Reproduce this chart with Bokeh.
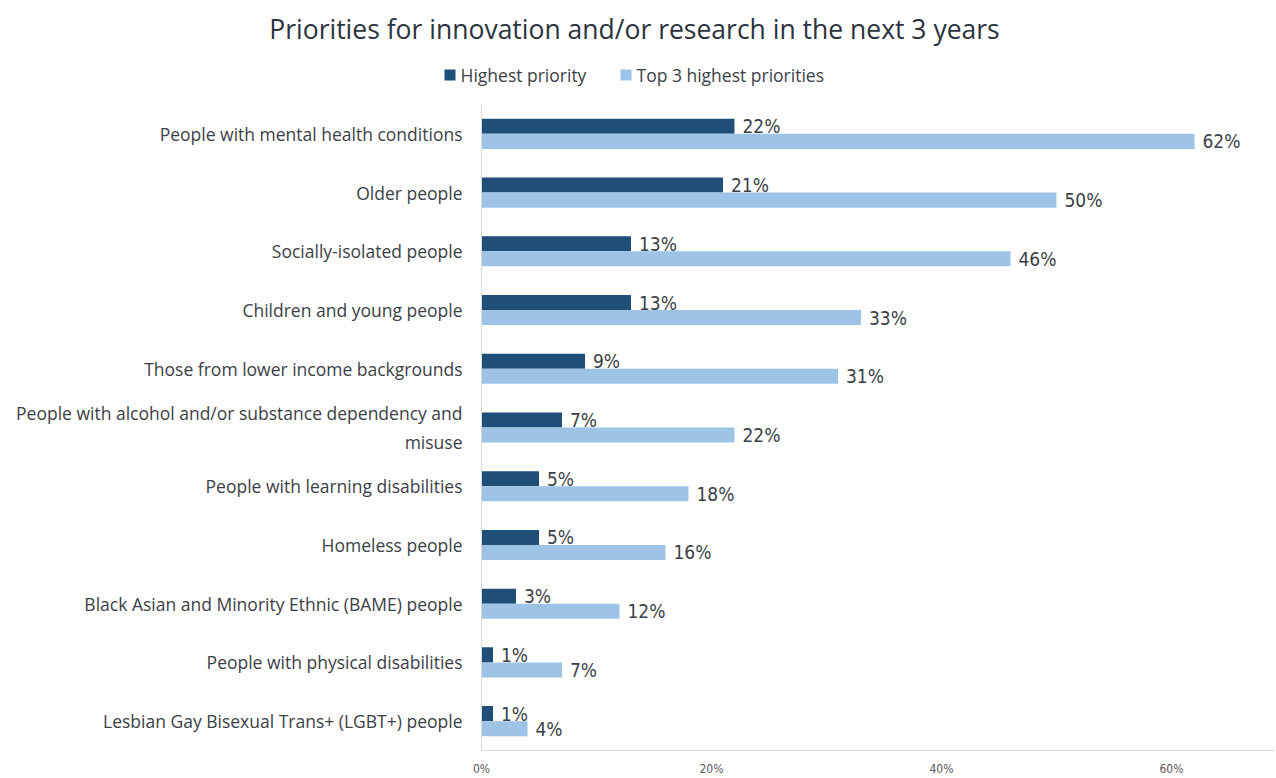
from bokeh.plotting import figure
from bokeh.models import (ColumnDataSource, FactorRange, NumeralTickFormatter, Label, Range1d)
from bokeh.transform import dodge
from bokeh.core.properties import value
from bokeh.embed import file_html
from bokeh.resources import INLINE

categories = [
    "People with mental health conditions",
    "Older people",
    "Socially-isolated people",
    "Children and young people",
    "Those from lower income backgrounds",
    "People with alcohol and/or substance dependency and\nmisuse",
    "People with learning disabilities",
    "Homeless people",
    "Black Asian and Minority Ethnic (BAME) people",
    "People with physical disabilities",
    "Lesbian Gay Bisexual Trans+ (LGBT+) people",
]
highest = [22, 21, 13, 13, 9, 7, 5, 5, 3, 1, 1]
top3 = [62, 50, 46, 33, 31, 22, 18, 16, 12, 7, 4]
series_names = ["Highest priority", "Top 3 highest priorities"]
x_ticks = [0, 20, 40, 60]
title_text = "Priorities for innovation and/or research in the next 3 years"

DARK = "#1f4e79"
LIGHT = "#9dc3e6"
TXT = "#3b3f46"
series_colors = [DARK, LIGHT]

W = 1276
TOP_H = 104
MAIN_H = 674

src = ColumnDataSource(dict(
    cat=categories,
    hi=[v / 100 for v in highest],
    t3=[v / 100 for v in top3],
    hi_lbl=[f"{v}%" for v in highest],
    t3_lbl=[f"{v}%" for v in top3],
))

# ---------- header (title + legend), pixel-space figure ----------
top = figure(width=W, height=TOP_H, output_backend="svg", toolbar_location=None,
             x_range=Range1d(0, W), y_range=Range1d(TOP_H, 0),
             min_border=0, x_axis_location=None, y_axis_location=None)
top.xgrid.visible = False
top.ygrid.visible = False
top.outline_line_color = None

top.add_layout(Label(x=634, y=28, text=title_text, text_align="center",
                     text_baseline="middle", text_font="Open Sans",
                     text_font_size="26.5px", text_color="#2b3340"))

# legend: swatch positions are layout, labels/colours come from the series lists
leg_x = [444, 620]
leg = ColumnDataSource(dict(
    x=[x + 5.5 for x in leg_x], tx=[x + 16 for x in leg_x],
    y=[74.5, 74.5], color=series_colors, label=series_names))
top.rect(x="x", y="y", width=11, height=11, source=leg,
         fill_color="color", line_color=None)
top.text(x="tx", y="y", text="label", source=leg, text_baseline="middle",
         text_align="left", text_font=value("Open Sans"), text_font_size="17.5px",
         text_color=TXT)

# ---------- main chart ----------
p = figure(width=W, height=MAIN_H, output_backend="svg", toolbar_location=None,
           y_range=FactorRange(factors=list(reversed(categories))),
           x_range=Range1d(0, 0.6896),
           min_border_left=481, min_border_right=2, min_border_top=0,
           min_border_bottom=MAIN_H - 646)

bh = 0.256
p.hbar(y=dodge("cat", bh / 2, range=p.y_range), right="hi", left=0, height=bh,
       source=src, fill_color=DARK, line_color=None)
p.hbar(y=dodge("cat", -bh / 2, range=p.y_range), right="t3", left=0, height=bh,
       source=src, fill_color=LIGHT, line_color=None)

p.text(x="hi", y=dodge("cat", bh / 2, range=p.y_range), text="hi_lbl", source=src,
       x_offset=8, text_baseline="middle", text_align="left",
       text_font=value("DejaVu Sans Condensed"), text_font_size="19px", text_color=TXT)
p.text(x="t3", y=dodge("cat", -bh / 2, range=p.y_range), text="t3_lbl", source=src,
       x_offset=8, text_baseline="middle", text_align="left",
       text_font=value("DejaVu Sans Condensed"), text_font_size="19px", text_color=TXT)

p.xgrid.visible = False
p.ygrid.visible = False
p.outline_line_color = None

p.xaxis.ticker = [t / 100 for t in x_ticks]
p.xaxis.formatter = NumeralTickFormatter(format="0%")
p.xaxis.axis_line_color = "#d9d9d9"
p.xaxis.major_tick_line_color = None
p.xaxis.minor_tick_line_color = None
p.xaxis.major_tick_out = 0
p.xaxis.major_tick_in = 0
p.xaxis.major_label_text_font = "DejaVu Sans Condensed"
p.xaxis.major_label_text_font_size = "12px"
p.xaxis.major_label_text_color = "#595959"
p.xaxis.major_label_standoff = 11

p.yaxis.axis_line_color = "#d9d9d9"
p.yaxis.major_tick_line_color = None
p.yaxis.minor_tick_line_color = None
p.yaxis.major_tick_out = 0
p.yaxis.major_tick_in = 0
p.yaxis.major_label_text_font = "Open Sans"
p.yaxis.major_label_text_font_size = "17.5px"
p.yaxis.major_label_text_color = TXT
p.yaxis.major_label_standoff = 19
p.yaxis.major_label_text_align = "center"

open("out.html", "w").write(file_html([top, p], INLINE))
